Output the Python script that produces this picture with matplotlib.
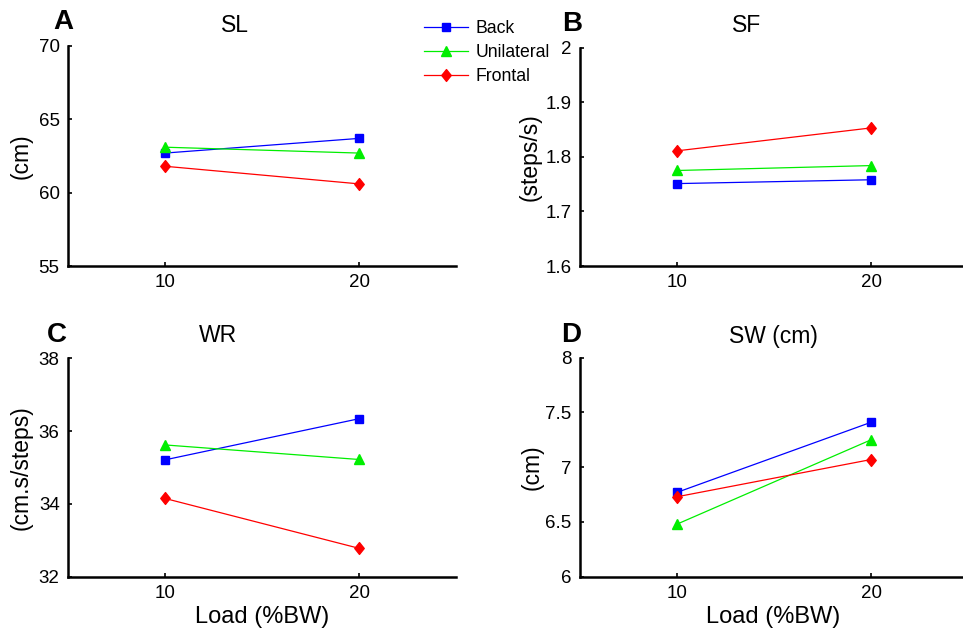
import matplotlib
matplotlib.use("Agg")
import matplotlib.pyplot as plt
from matplotlib.path import Path

plt.rcParams['font.family'] = ['Liberation Sans', 'DejaVu Sans']

loads = [10, 20]
series = ["Back", "Unilateral", "Frontal"]
colors = ["#0000ff", "#00ee00", "#ff0000"]
diamond = Path([(0, 1), (0.8, 0), (0, -1), (-0.8, 0), (0, 1)],
               [Path.MOVETO, Path.LINETO, Path.LINETO, Path.LINETO, Path.CLOSEPOLY])
markers = ["s", "^", diamond]
msizes = [5.5, 7.5, 8.5]

SL_back = [62.7, 63.7]
SL_uni = [63.1, 62.7]
SL_front = [61.8, 60.6]

SF_back = [1.751, 1.758]
SF_uni = [1.775, 1.784]
SF_front = [1.811, 1.853]

WR_back = [35.21, 36.34]
WR_uni = [35.62, 35.22]
WR_front = [34.15, 32.78]

SW_back = [6.77, 7.41]
SW_uni = [6.48, 7.25]
SW_front = [6.73, 7.07]

panels = [
    dict(letter="A", title="SL", ylabel="(cm)", data=[SL_back, SL_uni, SL_front],
         ylim=(55, 70), yticks=[55, 60, 65, 70], yticklabels=["55", "60", "65", "70"]),
    dict(letter="B", title="SF", ylabel="(steps/s)", data=[SF_back, SF_uni, SF_front],
         ylim=(1.6, 2.0), yticks=[1.6, 1.7, 1.8, 1.9, 2.0], yticklabels=["1.6", "1.7", "1.8", "1.9", "2"]),
    dict(letter="C", title="WR", ylabel="(cm.s/steps)", data=[WR_back, WR_uni, WR_front],
         ylim=(32, 38), yticks=[32, 34, 36, 38], yticklabels=["32", "34", "36", "38"]),
    dict(letter="D", title="SW (cm)", ylabel="(cm)", data=[SW_back, SW_uni, SW_front],
         ylim=(6, 8), yticks=[6, 6.5, 7, 7.5, 8], yticklabels=["6", "6.5", "7", "7.5", "8"]),
]

W, H = 963, 630
fig = plt.figure(figsize=(W / 100, H / 100), dpi=100)

# axes boxes in pixel coords: left, top, right, bottom
boxes = [
    (68, 46, 456, 266),
    (580, 47.7, 968, 266),
    (68, 358.3, 456, 576.7),
    (580, 357.7, 968, 576.7),
]
title_x = [235, 747, 218, 773]
title_y = [25, 25, 336, 336]
letter_xy = [(63, 22), (572, 24), (57, 335), (571, 335)]
ylabel_x = [21, 530, 21, 532]

handles = []
for i, (p, box) in enumerate(zip(panels, boxes)):
    l, t, r, b = box
    ax = fig.add_axes([l / W, 1 - b / H, (r - l) / W, (b - t) / H])
    for k, (vals, c, m, ms) in enumerate(zip(p["data"], colors, markers, msizes)):
        ln, = ax.plot(loads, vals, color=c, marker=m, markersize=ms, linewidth=0.9,
                      markeredgecolor=c, markerfacecolor=c, clip_on=False)
        if i == 0:
            handles.append(ln)
    ax.set_xlim(5, 25)
    ax.set_ylim(*p["ylim"])
    ax.set_xticks(loads)
    ax.set_xticklabels([str(v) for v in loads])
    ax.set_yticks(p["yticks"])
    ax.set_yticklabels(p["yticklabels"])
    for s in ["top", "right"]:
        ax.spines[s].set_visible(False)
    for s in ["left", "bottom"]:
        ax.spines[s].set_linewidth(1.8)
    ax.tick_params(direction="in", length=3, width=1.2, labelsize=13.5, pad=6)
    ax.patch.set_alpha(0)
    cy = (t + b) / 2
    fig.text(ylabel_x[i] / W, 1 - cy / H, p["ylabel"], rotation=90, fontsize=16.5,
             ha="center", va="center")
    fig.text(title_x[i] / W, 1 - title_y[i] / H, p["title"], fontsize=16.5,
             ha="center", va="center")
    lx, ly = letter_xy[i]
    fig.text(lx / W, 1 - ly / H, p["letter"], fontsize=20, fontweight="bold",
             ha="center", va="center")

for cx in [262, 773]:
    fig.text(cx / W, 1 - 617 / H, "Load (%BW)", fontsize=17, ha="center", va="center")

fig.legend(handles, series, loc="upper left", bbox_to_anchor=(412 / W, 1 - 8 / H),
           frameon=False, fontsize=12.7, handlelength=2.5, handletextpad=0.4,
           labelspacing=0.4, borderpad=0.2)

fig.savefig("out.png", dpi=100)
